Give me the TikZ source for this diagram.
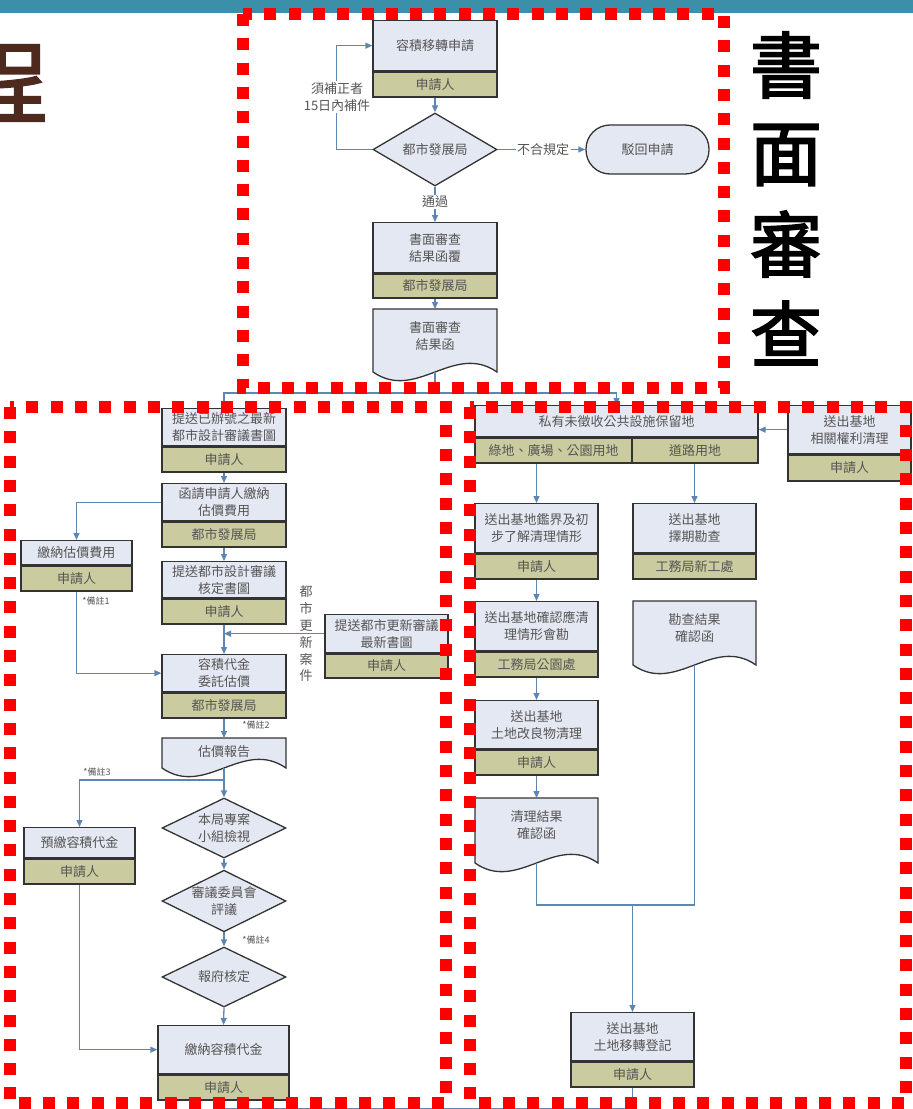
\documentclass[tikz,border=0pt]{standalone}
\usepackage{fontspec}
\usetikzlibrary{shapes.geometric,calc,arrows.meta}
\newfontfamily\cjk{Noto Sans CJK TC}
\newfontfamily\cjkb[FakeBold=2.5]{Noto Sans CJK TC}
\definecolor{boxfill}{HTML}{E4E8F2}
\definecolor{bandfill}{HTML}{CACB9E}
\definecolor{edgecol}{HTML}{333333}
\definecolor{conncol}{HTML}{5F86B0}
\definecolor{txtcol}{HTML}{555555}
\definecolor{tealbar}{HTML}{3B8FA9}
\definecolor{browntitle}{HTML}{4E2A1E}
\tikzset{
  bx/.style={font=\cjk\fontsize{13}{17}\selectfont, text=txtcol, align=center, inner sep=0pt},
  topbox/.style={bx, draw=edgecol, fill=boxfill, line width=1.3pt},
  bandbox/.style={bx, draw=edgecol, fill=bandfill, line width=1.3pt},
  dia/.style={bx, diamond, draw=edgecol, fill=boxfill, line width=1.3pt, aspect=2},
  termbox/.style={bx, draw=edgecol, fill=boxfill, line width=1.3pt, rounded corners=24pt},
  docframe/.style={inner sep=0pt, outer sep=0pt},
  cline/.style={draw=conncol, line width=1.3pt},
  arr/.style={cline, -{Triangle[length=7pt,width=6pt]}},
  nt/.style={font=\cjk\fontsize{9}{11}\selectfont, text=txtcol, inner sep=1pt},
  lbl/.style={bx, fill=white, inner sep=1.5pt},
  redbox/.style={draw=red, line width=12pt, dash pattern=on 12pt off 12.3pt},
  bigch/.style={font=\cjkb\fontsize{72}{72}\selectfont, text=black, inner sep=0pt},
}
% name, cx, ytop, width, top height, band height, text, band text
\newcommand\pbox[8]{%
  \node[topbox, minimum width=#4pt, minimum height=#5pt, anchor=north] (#1) at (#2,#3) {#7};
  \node[bandbox, minimum width=#4pt, minimum height=#6pt, anchor=north] (#1b) at (#1.south) {#8};}
% name, cx, ytop, width, height to wave line
\newcommand\docbox[5]{%
  \node[docframe, minimum width=#4pt, minimum height=#5pt, anchor=north] (#1) at (#2,#3) {};
  \draw[draw=edgecol, fill=boxfill, line width=1.3pt] (#1.north west) -- (#1.north east) -- (#1.south east)
    .. controls ($(#1.south east)+(-0.35*#4,-30)$) and ($(#1.south west)+(0.35*#4,30)$) .. (#1.south west) -- cycle;}
\begin{document}
\begin{tikzpicture}[x=1pt,y=-1pt]
\useasboundingbox (0,0) rectangle (913,1109);
\fill[tealbar] (0,0) rectangle (913,13);
\node[font=\cjkb\fontsize{90}{90}\selectfont, text=browntitle, anchor=base east, inner sep=0pt] (title) at (48,116) {程};

% ---------- top: written review ----------
\pbox{A}{435}{20}{124}{50}{25}{容積移轉申請}{申請人}
\node[dia, minimum width=124pt, minimum height=73pt] (D1) at (435,149.5) {都市發展局};
\node[termbox, minimum width=123pt, minimum height=49pt] (R1) at (647.5,149.5) {駁回申請};
\pbox{B}{435}{222}{124}{50}{24}{書面審查\\結果函覆}{都市發展局}
\docbox{C}{435}{309}{124}{63}
\node[bx] (Ct) at (435,336) {書面審查\\結果函};

\draw[arr] (Ab.south) -- (D1.north);
\draw[arr] (D1.west) -- ++(-36,0) |- (A.west);
\node[lbl] (L1) at (337,97) {須補正者\\15日內補件};
\draw[arr] (D1.east) -- (R1.west);
\node[lbl] (L2) at (543,149.5) {不合規定};
\draw[arr] (D1.south) -- (B.north);
\node[lbl] (L3) at (435,202) {通過};
\draw[arr] (Bb.south) -- (C.north);
\coordinate (sp) at (435,393);
\draw[cline] (C.south) -- (sp);

% ---------- left column ----------
\pbox{D}{224}{408}{124}{37}{25}{提送已辦號之最新\\都市設計審議書圖}{申請人}
\pbox{E}{224}{483}{124}{37}{25}{函請申請人繳納\\估價費用}{都市發展局}
\pbox{F}{224}{561}{124}{36}{25}{提送都市設計審議\\核定書圖}{申請人}
\pbox{G}{224}{654}{124}{37}{25}{容積代金\\委託估價}{都市發展局}
\pbox{H}{76.5}{540}{111}{24}{25}{繳納估價費用}{申請人}
\pbox{I}{386.5}{614}{123}{38}{24}{提送都市更新審議\\最新書圖}{申請人}
\docbox{EST}{224}{738}{124}{30}
\node[bx] (ESTt) at (224,752) {估價報告};
\node[dia, minimum width=124pt, minimum height=60pt] (K) at (224,828) {本局專案\\小組檢視};
\node[dia, minimum width=124pt, minimum height=60pt] (M) at (224,901) {審議委員會\\評議};
\node[dia, minimum width=124pt, minimum height=60pt] (N) at (224,977) {報府核定};
\pbox{L}{79.5}{827}{111}{30}{25}{預繳容積代金}{申請人}
\pbox{O}{223.5}{1025}{131}{48}{25}{繳納容積代金}{申請人}

\draw[arr] (sp) -| (D.north);
\draw[arr] (Db.south) -- (E.north);
\draw[arr] (E.west) -| (H.north);
\draw[arr] (Eb.south) -- (F.north);
\draw[arr] (Fb.south) -- (G.north);
\draw[arr] (I.west) -- (I.west -| G.north);
\node[bx, font=\cjk\fontsize{13}{16.8}\selectfont] (UR) at (306,634) {都\\市\\更\\新\\案\\件};
\draw[arr] (Hb.south) |- (G.west);
\node[nt] (n1) at (96,601) {*備註1};
\draw[arr] (Gb.south) -- (EST.north);
\node[nt] (n2) at (256,725) {*備註2};
\draw[arr] (EST.south) -- (K.north);
\coordinate (br) at (224,780);
\draw[arr] (br) -| (L.north);
\node[nt] (n3) at (97,772) {*備註3};
\draw[arr] (K.south) -- (M.north);
\draw[arr] (M.south) -- (N.north);
\node[nt] (n4) at (256,940) {*備註4};
\draw[arr] (N.south) -- (O.north);
\draw[arr] (Lb.south) |- (O.west);

% ---------- right column ----------
\node[topbox, minimum width=283pt, minimum height=31pt, anchor=north] (J) at (616.5,405) {私有未徵收公共設施保留地};
\node[bandbox, minimum width=157pt, minimum height=25pt, anchor=north west] (Jb1) at (J.south west) {綠地、廣場、公園用地};
\node[bandbox, minimum width=126pt, minimum height=25pt, anchor=north east] (Jb2) at (J.south east) {道路用地};
\pbox{Q}{849.5}{405}{123}{48}{26}{送出基地\\相關權利清理}{申請人}
\pbox{R}{536.5}{503}{123}{49}{25}{送出基地鑑界及初\\步了解清理情形}{申請人}
\pbox{S}{694.5}{503}{123}{49}{25}{送出基地\\擇期勘查}{工務局新工處}
\pbox{T}{536.5}{601}{123}{49}{25}{送出基地確認應清\\理情形會勘}{工務局公園處}
\docbox{U}{694.5}{601}{123}{64}
\node[bx] (Ut) at (694.5,628) {勘查結果\\確認函};
\pbox{V}{536.5}{700}{123}{48}{25}{送出基地\\土地改良物清理}{申請人}
\docbox{W}{536.5}{798}{123}{65}
\node[bx] (Wt) at (536.5,825) {清理結果\\確認函};
\pbox{P}{632.5}{1012}{123}{48}{25}{送出基地\\土地移轉登記}{申請人}

\draw[arr] (sp) -| (J.north);
\draw[arr] (Q.west) -- (Q.west -| J.east);
\draw[arr] (Jb1.south -| R.north) -- (R.north);
\draw[arr] (Jb2.south -| S.north) -- (S.north);
\draw[arr] (Rb.south) -- (T.north);
\draw[arr] (Tb.south) -- (V.north);
\draw[arr] (Vb.south) -- (W.north);
\coordinate (jn) at (632.5,905);
\draw[cline] (W.south) |- (jn);
\draw[cline] (U.south) |- (jn);
\draw[arr] (jn) -- (P.north);
\draw[cline] (Ob.south) -- ++(0,8) -| (Pb.south);

% ---------- red dotted frames ----------
\draw[redbox] (243,14) rectangle (724,388);
\draw[redbox] (10,407) rectangle (446,1103);
\draw[redbox] (470,407) rectangle (906,1103);

% ---------- vertical heading ----------
\node[bigch] (h1) at (786,65) {書};
\node[bigch] (h2) at (786,155) {面};
\node[bigch] (h3) at (786,244) {審};
\node[bigch] (h4) at (786,333) {查};
\end{tikzpicture}
\end{document}
